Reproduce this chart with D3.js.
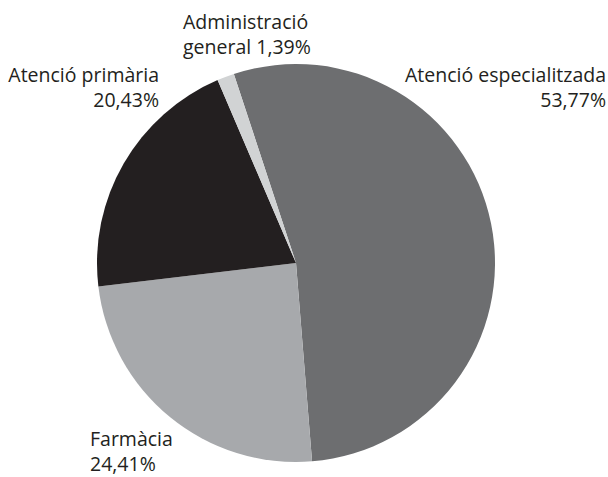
<!DOCTYPE html>
<html>
<head>
<meta charset="utf-8">
<script src="https://cdn.jsdelivr.net/npm/d3@7"></script>
<style>
  body { margin: 0; background: #fff; }
  svg text { font-family: "Open Sans", "Noto Sans", sans-serif; font-size: 19.5px; fill: #231f20; }
</style>
</head>
<body>
<svg id="chart"></svg>
<script>
var width = 608;
var height = 477;

// data, in drawing order (clockwise)
var categories = ["Atenció especialitzada", "Farmàcia", "Atenció primària", "Administració general"];
var values = [53.77, 24.41, 20.43, 1.39];
var colors = ["#6d6e70", "#a7a9ac", "#231f20", "#d1d3d4"];
// label lines (the name is broken where the original breaks it)
var labelLines = [
  ["Atenció especialitzada"],
  ["Farmàcia"],
  ["Atenció primària"],
  ["Administració", "general"]
];

// layout of labels: x, first baseline, anchor
var labelLayout = [
  {x: 606, y: 82, anchor: "end"},
  {x: 90, y: 446, anchor: "start"},
  {x: 159, y: 82, anchor: "end"},
  {x: 183, y: 29, anchor: "start"}
];
var lineHeight = 25;

var cx = 296, cy = 263, radius = 199;
var startDeg = -18.2;

var ca = d3.formatLocale({decimal: ",", thousands: ".", grouping: [3], currency: ["", " €"]});
var fmt = ca.format(".2f");

var svg = d3.select("#chart")
  .attr("width", width)
  .attr("height", height);

var pie = d3.pie()
  .sort(null)
  .startAngle(startDeg * Math.PI / 180)
  .endAngle((startDeg + 360) * Math.PI / 180);

var arc = d3.arc()
  .innerRadius(0)
  .outerRadius(radius);

var color = d3.scaleOrdinal().domain(categories).range(colors);

var g = svg.append("g")
  .attr("transform", "translate(" + cx + "," + cy + ")");

g.selectAll("path")
  .data(pie(values))
  .enter().append("path")
  .attr("d", arc)
  .attr("fill", function(d, i) { return color(categories[i]); });

////////////////////////////////////////////////////////////////////////////////
//                                                                     Labels //
////////////////////////////////////////////////////////////////////////////////

categories.forEach(function(c, i) {
  var lines = labelLines[i].slice();
  var pct = fmt(values[i]) + "%";
  // the percentage goes on its own line, except when the name is split
  if (lines.length > 1) {
    lines[lines.length - 1] += " " + pct;
  } else {
    lines.push(pct);
  }
  var pos = labelLayout[i];
  var t = svg.append("text")
    .attr("text-anchor", pos.anchor);
  lines.forEach(function(l, j) {
    t.append("tspan")
      .attr("x", pos.x)
      .attr("y", pos.y + j * lineHeight)
      .text(l);
  });
});
</script>
</body>
</html>
